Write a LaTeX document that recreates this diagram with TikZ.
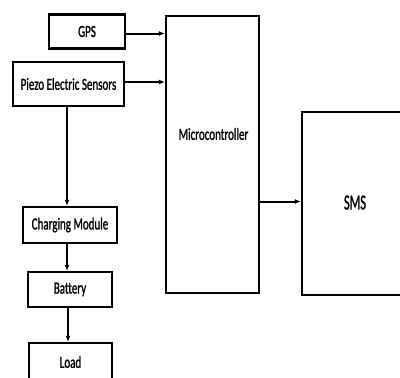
\documentclass[tikz,border=0pt]{standalone}
\usepackage{fontspec}
\setmainfont{Carlito}
\newfontfamily\narrowfont[FakeStretch=0.65,FakeBold=1.2]{Carlito}
\newfontfamily\smsfont[FakeStretch=0.58,FakeBold=1.2]{Carlito}
\usetikzlibrary{arrows.meta}
\begin{document}
\begin{tikzpicture}[x=1bp,y=-1bp,
  box/.style={draw=black,line width=2.2bp,rectangle,inner sep=0pt,font=\narrowfont\fontsize{17}{19}\selectfont},
  conn/.style={line width=2bp,-{Latex[length=6bp,width=5bp]}}]
\useasboundingbox (0,0) rectangle (400,378);
\clip (0,0) rectangle (400,378);
\node[box,minimum width=76bp,minimum height=34bp] (gps) at (87,31.5) {\raisebox{-2bp}{GPS}};
\node[box,minimum width=111bp,minimum height=44bp] (piezo) at (68.5,84) {Piezo Electric Sensors};
\node[box,minimum width=93bp,minimum height=277bp] (micro) at (212.5,154.5) {};
\node[font=\narrowfont\fontsize{17}{19}\selectfont] (microtxt) at (213.5,134) {Microcontroller};
\node[box,minimum width=106bp,minimum height=183bp,font=\smsfont\fontsize{21.5}{24}\selectfont] (sms) at (355,203.5) {\raisebox{2bp}{SMS}};
\node[box,minimum width=94bp,minimum height=36bp] (charge) at (70,225) {Charging Module};
\node[box,minimum width=84bp,minimum height=35bp] (battery) at (70,289.5) {Battery};
\node[box,minimum width=83bp,minimum height=38bp] (load) at (70.5,362) {Load};
\draw[conn] ([yshift=-2bp]gps.east) -- ([yshift=-2bp]gps.east -| micro.west);
\draw[conn] ([yshift=2bp]piezo.east) -- ([yshift=2bp]piezo.east -| micro.west);
\draw[conn] ([yshift=2bp]sms.west -| micro.east) -- ([yshift=2bp]sms.west);
\draw[conn] ([xshift=-1.5bp]piezo.south) -- ([xshift=-1.5bp]piezo.south |- charge.north);
\draw[conn] ([xshift=-3bp]charge.south) -- ([xshift=-3bp]charge.south |- battery.north);
\draw[conn] ([xshift=-2bp]battery.south) -- ([xshift=-2bp]battery.south |- load.north);
\end{tikzpicture}
\end{document}
